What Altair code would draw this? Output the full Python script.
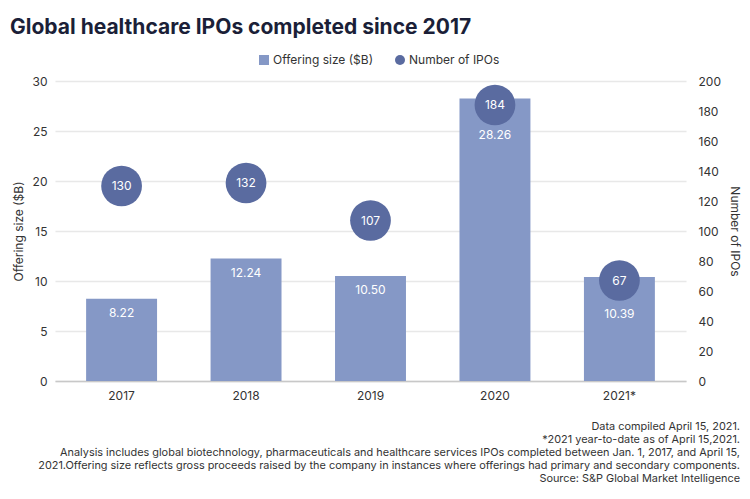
import altair as alt
import pandas as pd

years = ["2017", "2018", "2019", "2020", "2021*"]
offering = [8.22, 12.24, 10.50, 28.26, 10.39]
ipos = [130, 132, 107, 184, 67]
series = ["Offering size ($B)", "Number of IPOs"]
title_text = "Global healthcare IPOs completed since 2017"
footnote = [
    "Data compiled April 15, 2021.",
    "*2021 year-to-date as of April 15,2021.",
    "Analysis includes global biotechnology, pharmaceuticals and healthcare services IPOs completed between Jan. 1, 2017, and April 15,",
    "2021.Offering size reflects gross proceeds raised by the company in instances where offerings had primary and secondary components.",
    "Source: S&P Global Market Intelligence",
]

BAR = "#8598C6"
DOT = "#5A6BA0"
FONT = "Inter"
TXT = "#333333"

df = pd.DataFrame({"year": years, "offering": offering, "ipos": ipos})
df["series"] = series[1]

# a circle "collides" with its bar's top when both sit at nearly the same height
COLLIDE = "abs(datum.ipos * 0.15 - datum.offering) < 3"

x = alt.X(
    "year:N",
    sort=years,
    scale=alt.Scale(paddingInner=0.43, paddingOuter=0.25),
    axis=alt.Axis(title=None, labelAngle=0, ticks=False, domainColor="#c8c8c8",
                  domainWidth=1.5, labelPadding=9, labelFontSize=12, labelColor=TXT,
                  labelFont=FONT),
)

y_left = alt.Y(
    "offering:Q",
    scale=alt.Scale(domain=[0, 30]),
    axis=alt.Axis(title="Offering size ($B)", values=[0, 5, 10, 15, 20, 25, 30],
                  ticks=False, domain=False, gridColor="#e8e8e8", gridWidth=1.5,
                  labelPadding=8, labelFontSize=12, labelColor=TXT, labelFont=FONT,
                  titleFontSize=12, titleFontWeight="normal", titleColor=TXT,
                  titleFont=FONT, titlePadding=7),
)

y_right = alt.Y(
    "ipos:Q",
    scale=alt.Scale(domain=[0, 200]),
    axis=alt.Axis(title="Number of IPOs", orient="right",
                  values=[0, 20, 40, 60, 80, 100, 120, 140, 160, 180, 200],
                  ticks=False, domain=False, grid=False,
                  labelPadding=12, labelFontSize=12, labelColor=TXT, labelFont=FONT,
                  titleFontSize=12, titleFontWeight="normal", titleColor=TXT,
                  titleFont=FONT, titlePadding=7),
)

base = alt.Chart(df)

bars = base.mark_bar(color=BAR).encode(x=x, y=y_left)
bar_labels = base.mark_text(color="white", dy=14, fontSize=12, font=FONT).encode(
    x=x, y=y_left, text=alt.Text("offering:Q", format=".2f")
).transform_filter("!(" + COLLIDE + ")")
bar_labels_low = base.mark_text(color="white", dy=37, fontSize=12, font=FONT).encode(
    x=x, y=y_left, text=alt.Text("offering:Q", format=".2f")
).transform_filter(COLLIDE)

title_mark = alt.Chart(pd.DataFrame({"t": [title_text]})).mark_text(
    align="left", baseline="alphabetic", fontSize=21, fontWeight="bold",
    font=FONT, color="#1b1f38"
).encode(x=alt.value(-45), y=alt.value(-47), text="t:N")

foot_mark = alt.Chart(pd.DataFrame({"t": [0]})).mark_text(
    align="right", baseline="middle", fontSize=10.9, font=FONT, color=TXT,
    lineHeight=12.9
).encode(x=alt.value(685), y=alt.value(346), text=alt.value(footnote))

left = alt.layer(bars, bar_labels, bar_labels_low, title_mark, foot_mark)

leg = alt.Legend(title=None, orient="none", legendX=203, legendY=-27,
                 direction="horizontal", labelFontSize=12, labelFont=FONT,
                 labelColor=TXT, symbolSize=100, columnPadding=20, labelOffset=3)

pbase = base.transform_calculate(yo="(" + COLLIDE + ") ? -6 : 0")
yoff = alt.YOffset("yo:Q", scale=None)

points = pbase.mark_point(filled=True, size=1660, opacity=1, strokeWidth=0).encode(
    x=x,
    y=y_right,
    yOffset=yoff,
    color=alt.Color("series:N", scale=alt.Scale(domain=series, range=[BAR, DOT]),
                    legend=leg),
    shape=alt.Shape("series:N", scale=alt.Scale(domain=series,
                                                range=["square", "circle"]),
                    legend=leg),
)
point_labels = pbase.mark_text(color="white", fontSize=12, font=FONT,
                               baseline="middle").encode(
    x=x, y=y_right, yOffset=yoff, text=alt.Text("ipos:Q")
)
right = alt.layer(points, point_labels)

chart = alt.layer(left, right).resolve_scale(y="independent").properties(
    width=631, height=300,
    autosize=alt.AutoSizeParams(type="none"),
    padding={"left": 47, "top": 73, "right": 56, "bottom": 110},
).configure_view(stroke=None)

chart.save("out.html", embed_options={"renderer": "svg", "actions": False})
